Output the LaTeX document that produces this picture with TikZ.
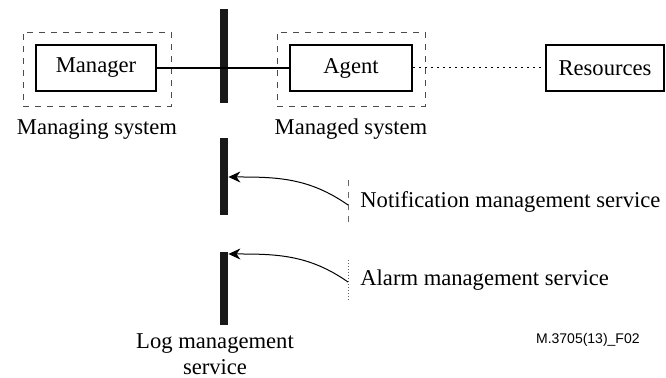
\documentclass[tikz,border=0pt]{standalone}
\usepackage{fontspec}
\setmainfont{Liberation Serif}
\setsansfont{Liberation Sans}
\usetikzlibrary{arrows.meta}

\begin{document}
\begin{tikzpicture}[x=0.5pt,y=0.5pt,
    box/.style={draw,line width=1pt,minimum height=23pt,inner sep=0pt,font=\fontsize{11.3}{13}\selectfont},
    sysbox/.style={draw=black!70,dashed,line width=0.4pt,minimum width=74pt,minimum height=37pt,inner sep=0pt},
    bus/.style={fill=black!90,minimum width=4pt,inner sep=0pt},
    lbl/.style={font=\fontsize{11.3}{13}\selectfont,inner sep=0pt},
    notif/.style={-{Stealth[length=6pt,width=5.5pt]},line width=0.5pt}]
    \useasboundingbox (0,0) rectangle (666,378);
    % bars
    \node[bus,minimum height=47pt]   (bus1) at (224,322) {};
    \node[bus,minimum height=38.5pt] (bus2) at (224,201.5) {};
    \node[bus,minimum height=36.5pt] (bus3) at (224,89.5) {};
    % systems
    \node[sysbox] (mgsys) at ( 97,309) {};
    \node[sysbox] (masys) at (351,309) {};
    \node[box,minimum width=60pt] (manager)   at ( 96,310) {Manager};
    \node[box,minimum width=61pt] (agent)     at (351,310) {Agent};
    \node[box,minimum width=59pt] (resources) at (605,310) {Resources};
    \node[lbl] (mglbl) at ( 97,249) {Managing system};
    \node[lbl] (malbl) at (351,249) {Managed system};
    % connections
    \draw[line width=1pt] (manager) -- (agent);
    \draw[dash pattern=on 1pt off 2pt,line width=0.5pt] (agent) -- (resources);
    % services
    \coordinate (ntop) at (348,198);
    \coordinate (nbot) at (348,156);
    \coordinate (atop) at (348,118);
    \coordinate (abot) at (348,78);
    \draw[dashed,black!60,line width=0.5pt] (ntop) -- (nbot);
    \draw[densely dotted,black!60,line width=0.5pt] (atop) -- (abot);
    \coordinate (nsrc) at (348,173);
    \coordinate (asrc) at (348,96);
    \draw[notif] (nsrc) to[out=145,in=0] (bus2.east |- 0,201);
    \draw[notif] (asrc) to[out=145,in=0] (bus3.east |- 0,124);
    \node[lbl,anchor=west] (nlbl) at (360,176) {Notification management service};
    \node[lbl,anchor=west] (albl) at (360,98)  {Alarm management service};
    \node[lbl,align=center] (loglbl) at (215,24) {Log management\\service};
    % figure number
    \node[anchor=east,inner sep=0pt,font=\sffamily\fontsize{7}{8}\selectfont] (fig) at (640,38) {M.3705(13)\_F02};
\end{tikzpicture}
\end{document}
